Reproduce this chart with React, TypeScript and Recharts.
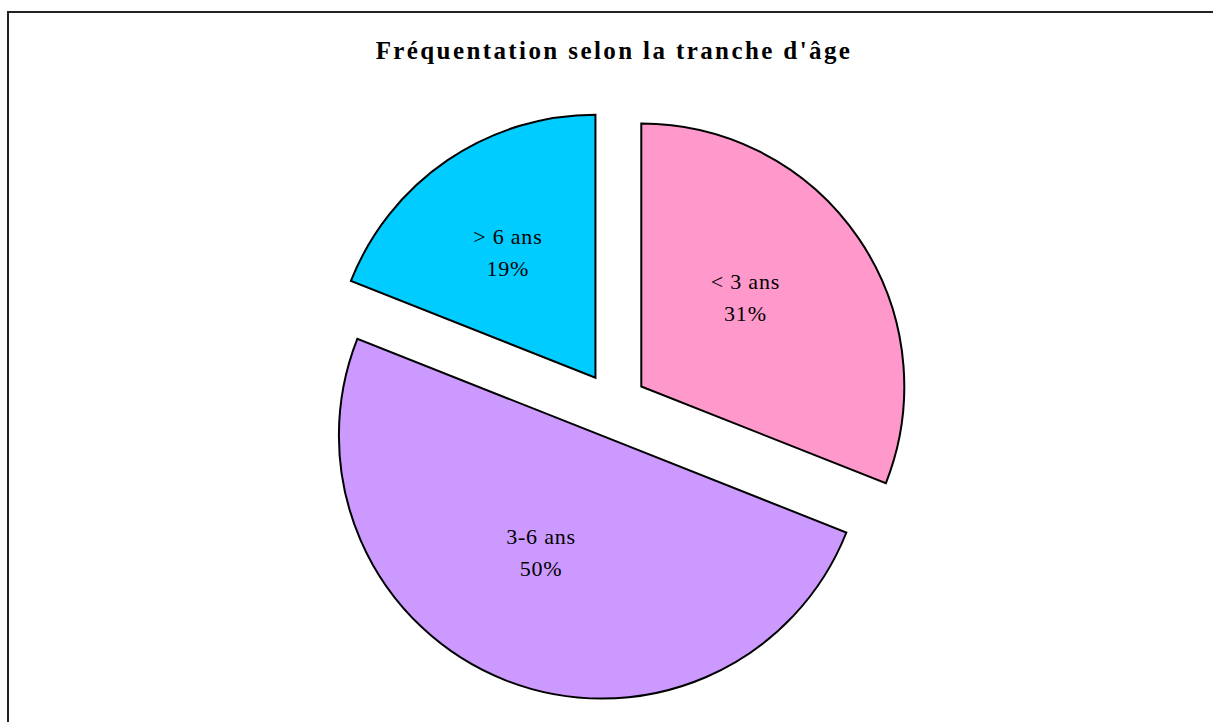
import { PieChart, Pie, Cell } from "recharts";

const categories = ["< 3 ans", "3-6 ans", "> 6 ans"];
const shares = [31, 50, 19];
const colors = ["#FF99CC", "#CC99FF", "#00CCFF"];

const data = categories.map((name, i) => ({ name, value: shares[i] }));

const FONT = "'Liberation Serif', 'Times New Roman', serif";
const RADIAN = Math.PI / 180;
const CX = 605;
const CY = 392;
const OUTER = 263;
const EXPLODE = 33;
const LABEL_R = 138;
const LABEL_DX = -10;
const LABEL_DY = -12;

const total = shares.reduce((a, b) => a + b, 0);
// mid angle of each slice, recharts convention (deg, ccw from 3 o'clock)
const midAngles = shares.map((v, i) => {
  const before = shares.slice(0, i).reduce((a, b) => a + b, 0);
  return 90 - ((before + v / 2) / total) * 360;
});

function makeLabel(slice: number) {
  return (props: any) => {
    if (props.index !== slice) return null;
    const x = props.cx + LABEL_R * Math.cos(-props.midAngle * RADIAN) + LABEL_DX;
    const y = props.cy + LABEL_R * Math.sin(-props.midAngle * RADIAN) + LABEL_DY;
    return (
      <text
        x={x}
        y={y - 8}
        textAnchor="middle"
        fill="#000"
        fontFamily={FONT}
        fontSize={22}
        letterSpacing={0.8}
      >
        <tspan x={x} y={y - 8}>
          {props.name}
        </tspan>
        <tspan x={x} y={y + 24}>
          {Math.round(props.percent * 100) + "%"}
        </tspan>
      </text>
    );
  };
}

export default function App() {
  return (
    <div
      style={{
        position: "absolute",
        left: 7,
        top: 11,
        width: 1210,
        height: 720,
        border: "2px solid #222",
        boxSizing: "border-box",
        background: "#fff",
      }}
    >
      <div
        style={{
          position: "absolute",
          left: 0,
          top: 25,
          width: 1210,
          textAlign: "center",
          fontFamily: FONT,
          fontWeight: "bold",
          fontSize: 25,
          lineHeight: "25px",
          letterSpacing: 2.4,
          color: "#000",
        }}
      >
        Fréquentation selon la tranche d'âge
      </div>
      <PieChart
        width={1206}
        height={716}
        margin={{ top: 0, right: 0, bottom: 0, left: 0 }}
      >
        {shares.map((_, slice) => (
          <Pie
            key={slice}
            data={data}
            dataKey="value"
            nameKey="name"
            cx={CX + EXPLODE * Math.cos(-midAngles[slice] * RADIAN)}
            cy={CY + EXPLODE * Math.sin(-midAngles[slice] * RADIAN)}
            outerRadius={OUTER}
            startAngle={90}
            endAngle={-270}
            isAnimationActive={false}
            labelLine={false}
            label={makeLabel(slice)}
          >
            {data.map((d, j) => (
              <Cell
                key={d.name}
                fill={j === slice ? colors[j] : "none"}
                stroke={j === slice ? "#000" : "none"}
                strokeWidth={2}
              />
            ))}
          </Pie>
        ))}
      </PieChart>
    </div>
  );
}
